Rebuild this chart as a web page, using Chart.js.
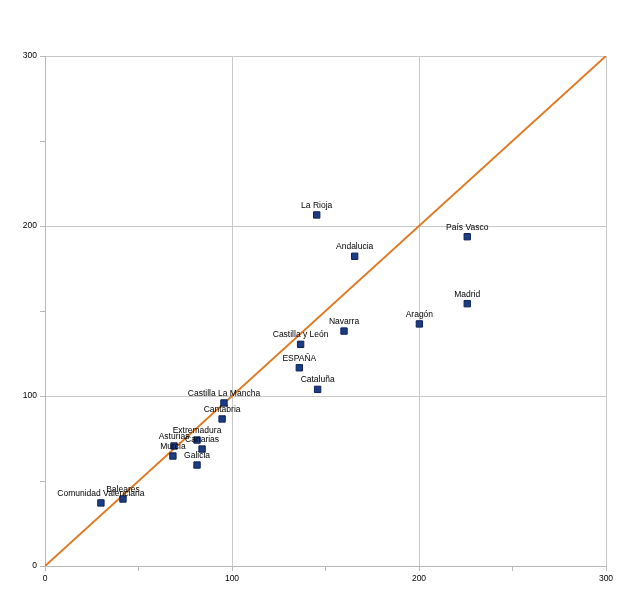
<!DOCTYPE html>
<html>
<head>
<meta charset="utf-8">
<script src="https://cdn.jsdelivr.net/npm/chart.js@4"></script>
<style>
html,body{margin:0;padding:0;background:#fff;}
#wrap{width:640px;height:604px;position:relative;}
</style>
</head>
<body>
<div id="wrap"><canvas id="c" width="640" height="604"></canvas></div>
<script>
const regions = ["Comunidad Valenciana","Baleares","Murcia","Asturias","Extremadura","Canarias","Galicia","Cantabria","Castilla La Mancha","ESPAÑA","Castilla y León","Cataluña","Navarra","La Rioja","Andalucia","Aragón","País Vasco","Madrid"];
const xValues = [29.9, 41.7, 68.4, 69.0, 81.3, 84.0, 81.3, 94.7, 95.7, 136.0, 136.7, 145.8, 159.9, 145.3, 165.6, 200.2, 225.8, 225.8];
const yValues = [37.1, 39.4, 64.7, 70.6, 74.1, 68.8, 59.4, 86.5, 95.9, 116.6, 130.4, 103.9, 138.2, 206.5, 182.2, 142.4, 193.7, 154.3];
const lineX = [0, 300];
const lineY = [0, 300];
const tickStep = 50;

const pts = regions.map((r,i)=>({x:xValues[i], y:yValues[i], label:r}));
const linePts = lineX.map((v,i)=>({x:v, y:lineY[i]}));

const labelPlugin = {
  id:'pointLabels',
  afterDatasetsDraw(chart){
    const ctx = chart.ctx;
    const meta = chart.getDatasetMeta(1);
    ctx.save();
    ctx.font = '8.5px "Liberation Sans", Arial, sans-serif';
    ctx.fillStyle = '#000';
    ctx.textAlign = 'center';
    ctx.textBaseline = 'middle';
    meta.data.forEach((el,i)=>{
      ctx.fillText(regions[i], el.x, el.y - 9.5);
    });
    ctx.restore();
  }
};

const gridCol = '#c8c8c8';
const scaleCommon = {
  type:'linear', min:0, max:300,
  border:{display:true, color:'#b8b8b8', width:1},
  grid:{
    color: c => (c.tick && c.tick.value % 100 === 0) ? gridCol : 'rgba(0,0,0,0)',
    tickColor:'#b8b8b8', tickLength:5, lineWidth:1
  },
  ticks:{
    stepSize:tickStep, color:'#000', padding:3,
    font:{family:'"Liberation Sans", Arial, sans-serif', size:8.5},
    callback: v => (v % 100 === 0 ? String(v) : '')
  }
};

new Chart(document.getElementById('c'), {
  type:'scatter',
  data:{
    datasets:[
      {type:'line', data:linePts, borderColor:'#e07a22', borderWidth:2, pointRadius:0, fill:false, order:2},
      {type:'scatter', data:pts, pointStyle:'rect', pointRadius:4.5, backgroundColor:'#1c3d85', borderColor:'#0c2258', borderWidth:1, order:1}
    ]
  },
  options:{
    responsive:false, animation:false,
    layout:{padding:{top:56, right:34, left:0, bottom:0}},
    plugins:{legend:{display:false}, tooltip:{enabled:false}},
    scales:{
      x:Object.assign({}, scaleCommon, {afterFit: s=>{s.height=38;}}),
      y:Object.assign({}, scaleCommon, {afterFit: s=>{s.width=45;}})
    }
  },
  plugins:[labelPlugin]
});
</script>
</body>
</html>
